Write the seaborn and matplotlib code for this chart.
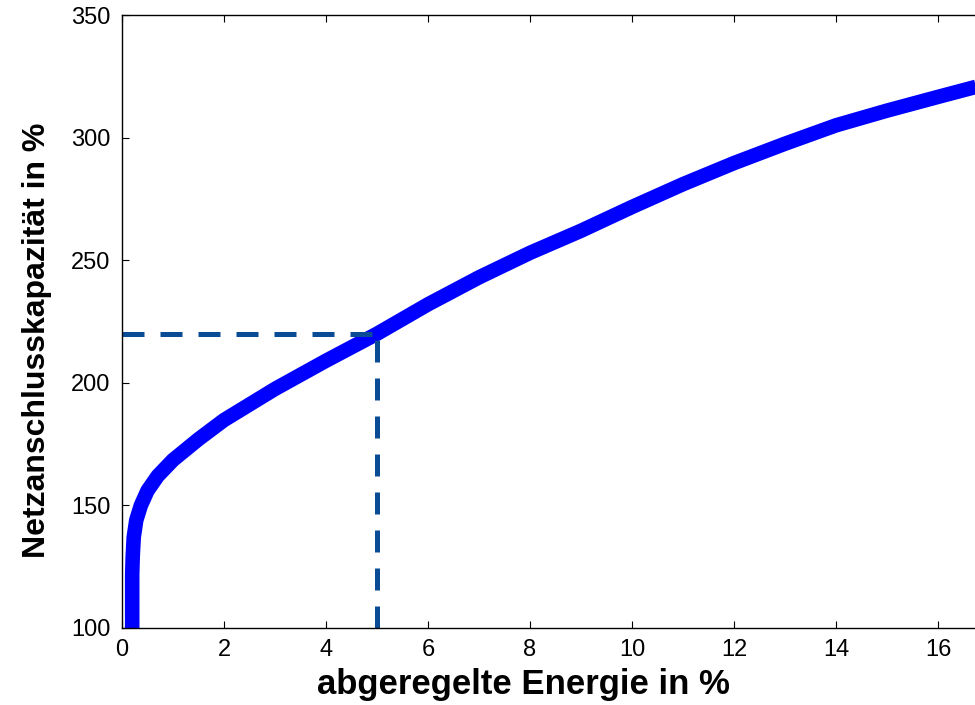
import numpy as np
import pandas as pd
import matplotlib
matplotlib.use("Agg")
import matplotlib.pyplot as plt
import seaborn as sns

# Werte
energie = [0.2, 0.2, 0.21, 0.23, 0.28, 0.37, 0.5, 0.7, 1.0, 1.5, 2.0, 3.0, 4.0, 5.0,
           6.0, 7.0, 8.0, 9.0, 10.0, 11.0, 12.0, 13.0, 14.0, 15.0, 16.0, 16.8]
kapazitaet = [100, 122, 129, 137, 144, 150, 156, 162, 168.5, 177, 184.8, 197.5, 209, 220,
              232, 243, 253, 262, 271.7, 281, 289.6, 297.5, 305, 311, 316.6, 321]
punkt_x = 5
punkt_y = 220
xticks = [0, 2, 4, 6, 8, 10, 12, 14, 16]
yticks = [100, 150, 200, 250, 300, 350]

sns.set_style("white", {'text.color': 'black', 'axes.labelcolor': 'black',
                        'xtick.color': 'black', 'ytick.color': 'black'})
plt.rcParams['font.family'] = ['Liberation Sans', 'DejaVu Sans']

df = pd.DataFrame({'energie': energie, 'kapazitaet': kapazitaet})

fig = plt.figure(figsize=(9.75, 7.05), dpi=100)
ax = fig.add_axes([122 / 975, 77 / 705, 853 / 975, 613 / 705])

sns.lineplot(data=df, x='energie', y='kapazitaet', ax=ax, color='#0000ff',
             linewidth=10.5, sort=False, estimator=None, solid_capstyle='butt')

# gestrichelte Hilfslinien
ax.plot([0, punkt_x], [punkt_y, punkt_y], color='#0a4b96', linewidth=3.6,
        dashes=(4.4, 3.2))
ax.plot([punkt_x, punkt_x], [100, punkt_y], color='#0a4b96', linewidth=3.6,
        dashes=(4.4, 3.2))

ax.set_xlim(0, 853 / 51)
ax.set_ylim(100, 350)
ax.set_xticks(xticks)
ax.set_yticks(yticks)
ax.tick_params(direction='in', length=5, width=0.8, labelsize=17, colors='black',
               top=True, bottom=True, left=True, right=False)
ax.tick_params(axis='y', pad=8.5)
ax.tick_params(axis='x', pad=8)
ax.spines['right'].set_visible(False)
for s in ['top', 'bottom', 'left']:
    ax.spines[s].set_color('black')
    ax.spines[s].set_linewidth(1)

ax.set_xlabel('abgeregelte Energie in %', fontsize=25, fontweight='bold', color='black')
ax.set_ylabel('Netzanschlusskapazität in %', fontsize=23, fontweight='bold', color='black')
ax.xaxis.set_label_coords(0.471, -0.065)
ax.yaxis.set_label_coords(-0.082, 0.47)

fig.savefig('out.png', dpi=100)
